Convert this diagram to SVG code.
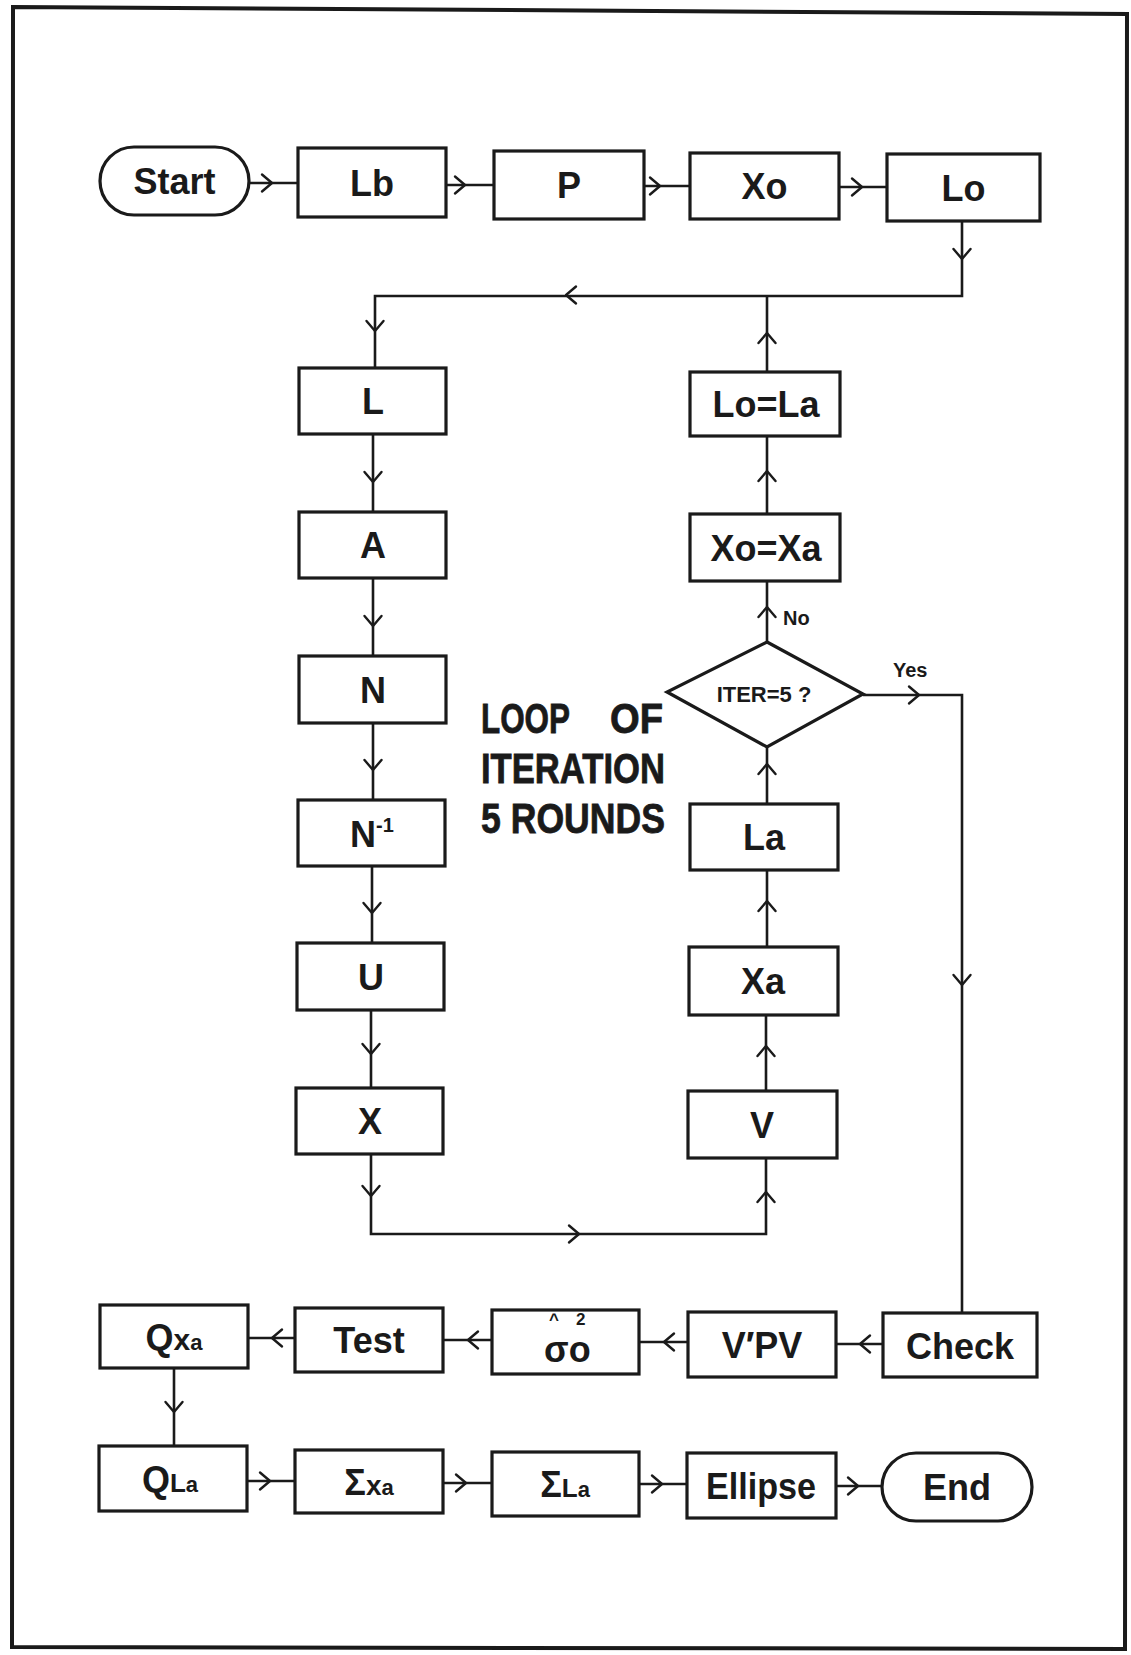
<svg xmlns="http://www.w3.org/2000/svg" xmlns:xlink="http://www.w3.org/1999/xlink" width="1131" height="1655" viewBox="0 0 1131 1655">
<style>
.box{fill:#fff;stroke:#1a1a1a;stroke-width:3.2}
.t{font-family:"Liberation Sans",Arial,sans-serif;font-weight:bold;font-size:36px;fill:#1a1a1a;text-anchor:middle}
.s{font-family:"Liberation Sans",Arial,sans-serif;font-weight:bold;fill:#1a1a1a}
.big{font-family:"Liberation Sans",Arial,sans-serif;font-weight:bold;font-size:42px;fill:#1a1a1a;stroke:#1a1a1a;stroke-width:0.8}
.ln{fill:none;stroke:#1a1a1a;stroke-width:2.6}
.ah{fill:none;stroke:#1a1a1a;stroke-width:2.4;stroke-linecap:round;stroke-linejoin:round}
</style>
<defs>
<path id="ah" class="ah" d="M-10,-8.5 L0,0 L-10,8.5"/>
</defs>
<rect width="1131" height="1655" fill="#fff"/>
<polygon points="13,7 1127,14 1125,1649 12,1647" fill="none" stroke="#1a1a1a" stroke-width="4"/>

<g id="connectors">
<path class="ln" d="M249,183 H298 M446,185 H494 M644,186 H690 M839,187 H887"/>
<path class="ln" d="M962,221 V296 H375 V368"/>
<path class="ln" d="M767,372 V296"/>
<path class="ln" d="M373,434 V512 M373,578 V656 M373,723 V800 M372,866 V943 M371,1010 V1088"/>
<path class="ln" d="M371,1154 V1234 H766 V1158"/>
<path class="ln" d="M766,1091 V1015 M767,947 V870 M767,804 V747 M767,642 V581 M767,514 V436"/>
<path class="ln" d="M863,695 H962 V1313"/>
<path class="ln" d="M883,1344 H836 M688,1342 H639 M492,1340 H443 M295,1338 H248"/>
<path class="ln" d="M174,1368 V1446"/>
<path class="ln" d="M247,1481 H295 M443,1483 H492 M639,1484 H687 M836,1486 H882"/>
<use xlink:href="#ah" transform="translate(272,183)"/>
<use xlink:href="#ah" transform="translate(465,185)"/>
<use xlink:href="#ah" transform="translate(660,186)"/>
<use xlink:href="#ah" transform="translate(862,187)"/>
<use xlink:href="#ah" transform="translate(962,259) rotate(90)"/>
<use xlink:href="#ah" transform="translate(566,295) rotate(180)"/>
<use xlink:href="#ah" transform="translate(375,331) rotate(90)"/>
<use xlink:href="#ah" transform="translate(767,333) rotate(-90)"/>
<use xlink:href="#ah" transform="translate(373,482) rotate(90)"/>
<use xlink:href="#ah" transform="translate(373,626) rotate(90)"/>
<use xlink:href="#ah" transform="translate(373,770) rotate(90)"/>
<use xlink:href="#ah" transform="translate(372,913) rotate(90)"/>
<use xlink:href="#ah" transform="translate(371,1054) rotate(90)"/>
<use xlink:href="#ah" transform="translate(371,1196) rotate(90)"/>
<use xlink:href="#ah" transform="translate(579,1234)"/>
<use xlink:href="#ah" transform="translate(766,1192) rotate(-90)"/>
<use xlink:href="#ah" transform="translate(766,1046) rotate(-90)"/>
<use xlink:href="#ah" transform="translate(767,901) rotate(-90)"/>
<use xlink:href="#ah" transform="translate(767,764) rotate(-90)"/>
<use xlink:href="#ah" transform="translate(767,607) rotate(-90)"/>
<use xlink:href="#ah" transform="translate(767,471) rotate(-90)"/>
<use xlink:href="#ah" transform="translate(919,695)"/>
<use xlink:href="#ah" transform="translate(962,985) rotate(90)"/>
<use xlink:href="#ah" transform="translate(860,1344) rotate(180)"/>
<use xlink:href="#ah" transform="translate(664,1342) rotate(180)"/>
<use xlink:href="#ah" transform="translate(468,1340) rotate(180)"/>
<use xlink:href="#ah" transform="translate(272,1338) rotate(180)"/>
<use xlink:href="#ah" transform="translate(174,1412) rotate(90)"/>
<use xlink:href="#ah" transform="translate(270,1481)"/>
<use xlink:href="#ah" transform="translate(466,1483)"/>
<use xlink:href="#ah" transform="translate(662,1484)"/>
<use xlink:href="#ah" transform="translate(858,1486)"/>
<text class="s" x="783" y="625" font-size="20">No</text>
<text class="s" x="893" y="677" font-size="20">Yes</text>
</g>

<g id="start"><rect class="box" x="100" y="147" width="149" height="68" rx="34"/><text class="t" x="174.5" y="194">Start</text></g>
<g id="lb"><rect class="box" x="298" y="148" width="148" height="69"/><text class="t" x="372" y="196">Lb</text></g>
<g id="p"><rect class="box" x="494" y="151" width="150" height="68"/><text class="t" x="569" y="198">P</text></g>
<g id="xo"><rect class="box" x="690" y="153" width="149" height="66"/><text class="t" x="764.5" y="199">Xo</text></g>
<g id="lo"><rect class="box" x="887" y="154" width="153" height="67"/><text class="t" x="963.5" y="201">Lo</text></g>

<g id="l"><rect class="box" x="299" y="368" width="147" height="66"/><text class="t" x="373" y="414">L</text></g>
<g id="a"><rect class="box" x="299" y="512" width="147" height="66"/><text class="t" x="373" y="558">A</text></g>
<g id="n"><rect class="box" x="299" y="656" width="147" height="67"/><text class="t" x="373" y="703">N</text></g>
<g id="ninv"><rect class="box" x="298" y="800" width="147" height="66"/><text class="t" x="372" y="847">N<tspan font-size="20" dy="-15">-1</tspan></text></g>
<g id="u"><rect class="box" x="297" y="943" width="147" height="67"/><text class="t" x="371" y="990">U</text></g>
<g id="x"><rect class="box" x="296" y="1088" width="147" height="66"/><text class="t" x="370" y="1134">X</text></g>

<g id="lola"><rect class="box" x="690" y="372" width="150" height="64"/><text class="t" x="766" y="417">Lo=La</text></g>
<g id="xoxa"><rect class="box" x="690" y="514" width="150" height="67"/><text class="t" x="766" y="561">Xo=Xa</text></g>
<g id="iter"><polygon class="box" points="767,642 863,694 767,747 667,692"/><text class="s" x="764" y="702" font-size="22" text-anchor="middle">ITER=5 ?</text></g>
<g id="la"><rect class="box" x="690" y="804" width="148" height="66"/><text class="t" x="764" y="850">La</text></g>
<g id="xa"><rect class="box" x="689" y="947" width="149" height="68"/><text class="t" x="763" y="994">Xa</text></g>
<g id="v"><rect class="box" x="688" y="1091" width="149" height="67"/><text class="t" x="762" y="1138">V</text></g>

<g id="loop-label">
<text class="big" x="481" y="733" textLength="89" lengthAdjust="spacingAndGlyphs">LOOP</text>
<text class="big" x="610" y="733" textLength="53" lengthAdjust="spacingAndGlyphs">OF</text>
<text class="big" x="481" y="783" textLength="184" lengthAdjust="spacingAndGlyphs">ITERATION</text>
<text class="big" x="481" y="833" textLength="184" lengthAdjust="spacingAndGlyphs">5 ROUNDS</text>
</g>

<g id="qxa"><rect class="box" x="100" y="1305" width="148" height="63"/><text class="t" x="174" y="1350">Q<tspan font-size="30">x</tspan><tspan font-size="22">a</tspan></text></g>
<g id="test"><rect class="box" x="295" y="1308" width="148" height="64"/><text class="t" x="369" y="1353">Test</text></g>
<g id="sigma"><rect class="box" x="492" y="1310" width="147" height="64"/><text class="s" x="544" y="1362" font-size="36">σo</text><text class="s" x="549" y="1325" font-size="17">^</text><text class="s" x="576" y="1325" font-size="17">2</text></g>
<g id="vpv"><rect class="box" x="688" y="1312" width="148" height="65"/><text class="t" x="762" y="1358">V′PV</text></g>
<g id="check"><rect class="box" x="883" y="1313" width="154" height="64"/><text class="t" x="960" y="1359">Check</text></g>

<g id="qla"><rect class="box" x="99" y="1446" width="148" height="65"/><text class="t" x="170" y="1492">Q<tspan font-size="26">L</tspan><tspan font-size="22">a</tspan></text></g>
<g id="sxa"><rect class="box" x="295" y="1450" width="148" height="63"/><text class="t" x="369" y="1495">Σ<tspan font-size="28">x</tspan><tspan font-size="22">a</tspan></text></g>
<g id="sla"><rect class="box" x="492" y="1452" width="147" height="64"/><text class="t" x="565" y="1497">Σ<tspan font-size="26">L</tspan><tspan font-size="22">a</tspan></text></g>
<g id="ellipse"><rect class="box" x="687" y="1453" width="149" height="65"/><text class="t" x="761" y="1499" textLength="110" lengthAdjust="spacingAndGlyphs">Ellipse</text></g>
<g id="end"><rect class="box" x="882" y="1453" width="150" height="68" rx="34"/><text class="t" x="957" y="1500">End</text></g>
</svg>
